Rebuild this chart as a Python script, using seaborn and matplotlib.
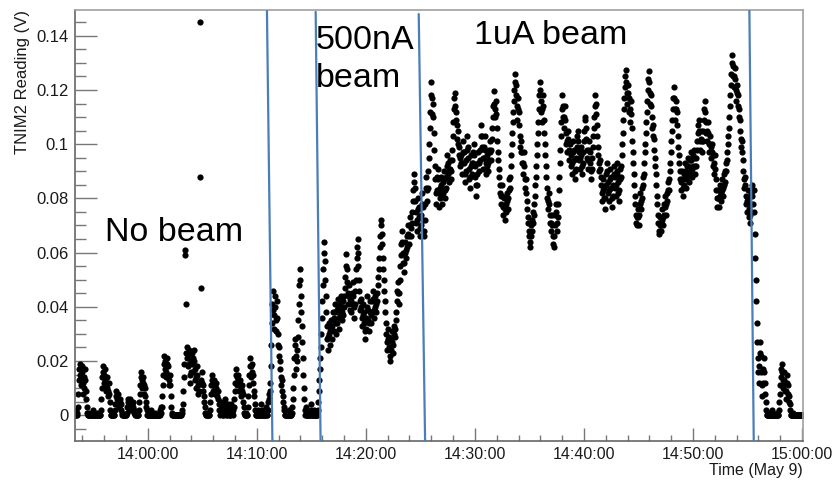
import matplotlib
matplotlib.use("Agg")
import matplotlib.pyplot as plt
import matplotlib.dates as mdates
from matplotlib.ticker import MultipleLocator, FuncFormatter
import pandas as pd
import seaborn as sns

DAY = "2018-05-09 "

# TNIM2 readings (V), one list per beam phase
no_beam_span = ("13:53:20", "14:11:16")
no_beam_v = [
    0, 0, 0.002, 0, 0, 0.001,
    0.003, 0.008, 0.013, 0.017, 0.019, 0.015, 0.011, 0.014, 0.018, 0.016,
    0.012, 0.008, 0.010, 0.014, 0.017, 0.013, 0.009, 0.006, 0.003, 0.001,
    0, 0, 0, 0.001, 0, 0, 0, 0, 0, 0, 0.002, 0, 0, 0, 0, 0, 0, 0, 0.001, 0,
    0, 0, 0, 0, 0, 0,
    0.002, 0.006, 0.010, 0.014, 0.018, 0.016, 0.012, 0.015, 0.017, 0.013,
    0.009, 0.011, 0.014, 0.010, 0.007, 0.009, 0.012, 0.008, 0.005, 0.002,
    0, 0, 0, 0, 0, 0.001, 0, 0,
    0.002, 0.004, 0.007, 0.009, 0.006, 0.004, 0.006, 0.008, 0.005, 0.003,
    0.005, 0.006, 0.004, 0.002, 0.001, 0,
    0, 0, 0, 0, 0, 0, 0, 0,
    0.001, 0.003, 0.005, 0.006, 0.004, 0.002, 0.004, 0.006, 0.005, 0.003,
    0.002, 0.004, 0.005, 0.003, 0.002, 0.001, 0, 0.001,
    0, 0, 0, 0, 0, 0,
    0.002, 0.005, 0.008, 0.011, 0.014, 0.016, 0.013, 0.010, 0.012, 0.014,
    0.011, 0.008, 0.010, 0.007, 0.005, 0.003, 0.002, 0,
    0, 0, 0, 0, 0, 0, 0.002, 0, 0, 0, 0, 0, 0, 0, 0, 0.001, 0, 0, 0, 0,
    0, 0, 0, 0, 0, 0.002, 0.003, 0.001,
    0.003, 0.007, 0.011, 0.015, 0.019, 0.022, 0.020, 0.017, 0.014, 0.016,
    0.019, 0.021, 0.018, 0.014, 0.011, 0.013, 0.015, 0.011, 0.007, 0.003,
    0.001, 0, 0, 0, 0, 0, 0, 0, 0, 0, 0, 0, 0, 0, 0, 0, 0, 0, 0, 0,
    0.001, 0.002,
    0.004, 0.009, 0.014, 0.019, 0.061, 0.059, 0.041, 0.023, 0.025, 0.021,
    0.018, 0.022, 0.024, 0.019, 0.015, 0.012, 0.016, 0.020, 0.023, 0.019,
    0.016, 0.021, 0.024, 0.020, 0.017, 0.013, 0.010, 0.014, 0.018, 0.015,
    0.011, 0.008, 0.012, 0.009, 0.145, 0.088, 0.047, 0.013, 0.016, 0.012,
    0.009, 0.011, 0.007, 0.005, 0.003, 0.001,
    0, 0, 0, 0.001, 0, 0, 0, 0,
    0.002, 0.005, 0.008, 0.011, 0.013, 0.015, 0.012, 0.009, 0.011, 0.013,
    0.010, 0.008, 0.010, 0.012, 0.009, 0.007, 0.009, 0.006, 0.004, 0.002,
    0, 0.002, 0.004, 0.005, 0.003, 0.001, 0, 0, 0.003, 0.005,
    0.006, 0.004, 0.002, 0, 0, 0.002, 0.004, 0.003, 0.001, 0,
    0, 0, 0.002, 0.004, 0.003, 0.001, 0, 0.002,
    0.003, 0.006, 0.009, 0.012, 0.015, 0.017, 0.014, 0.011, 0.013, 0.015,
    0.012, 0.009, 0.011, 0.013, 0.010, 0.007, 0.009, 0.011, 0.008, 0.005,
    0.003, 0.001,
    0, 0, 0.001, 0, 0, 0,
    0.003, 0.007, 0.011, 0.015, 0.018, 0.021, 0.018, 0.014, 0.016, 0.019,
    0.015, 0.012, 0.009, 0.007, 0.004, 0.002,
    0, 0, 0, 0, 0.002, 0, 0, 0, 0, 0, 0, 0.004, 0.002, 0, 0, 0, 0, 0, 0, 0,
    0.003, 0.001, 0, 0, 0.002, 0.005, 0.008, 0.006, 0.009, 0.012,
]

ramp_span = ("14:11:16", "14:15:51")
ramp_v = [
    0.018, 0.026, 0.034, 0.041, 0.046, 0.039, 0.032, 0.037, 0.044, 0.040,
    0.035, 0.031,
    0.042, 0.036, 0.030, 0.026, 0.022, 0.025, 0.020, 0.017, 0.014, 0.011,
    0.013, 0.009, 0.007, 0.005, 0.003, 0.002,
    0, 0, 0, 0.001, 0, 0, 0, 0, 0.002, 0, 0, 0, 0, 0, 0.001, 0.003,
    0.006, 0.010, 0.015, 0.021, 0.026, 0.028, 0.022, 0.017, 0.020, 0.024,
    0.029, 0.035, 0.041, 0.048, 0.054, 0.050, 0.044, 0.038, 0.033, 0.027,
    0.021, 0.015, 0.010, 0.006,
    0.002, 0, 0, 0.003, 0, 0, 0, 0.001, 0, 0, 0, 0, 0.004, 0.002, 0, 0,
    0, 0, 0.002, 0, 0, 0, 0, 0, 0, 0,
    0.002, 0.005, 0.009, 0.013, 0.017, 0.021,
]

beam500_span = ("14:15:51", "14:25:22")
beam500_v = [
    0.025, 0.030, 0.036, 0.042, 0.048, 0.054, 0.060, 0.064, 0.057, 0.050,
    0.044, 0.038, 0.033, 0.028, 0.024, 0.029, 0.034, 0.030, 0.026, 0.031,
    0.035, 0.032,
    0.028, 0.033, 0.038, 0.035, 0.031, 0.036, 0.041, 0.038, 0.034, 0.030,
    0.034, 0.039, 0.043, 0.040, 0.036, 0.032, 0.037, 0.041, 0.044, 0.039,
    0.035, 0.038, 0.042, 0.037, 0.040, 0.044,
    0.047, 0.051, 0.055, 0.0595, 0.054, 0.049, 0.045, 0.041, 0.044, 0.048,
    0.043, 0.039, 0.042, 0.038,
    0.041, 0.045, 0.049, 0.044, 0.040, 0.036, 0.041, 0.046, 0.050, 0.054,
    0.058, 0.062, 0.065, 0.060, 0.055, 0.050,
    0.046, 0.042, 0.039, 0.043, 0.040, 0.036, 0.033, 0.037, 0.041, 0.038,
    0.034, 0.031, 0.028, 0.032, 0.036, 0.040, 0.044, 0.039, 0.035, 0.031,
    0.034, 0.038, 0.042, 0.037,
    0.034, 0.038, 0.042, 0.046, 0.043, 0.039, 0.036, 0.040, 0.044, 0.041,
    0.038, 0.042, 0.045, 0.048, 0.051, 0.054,
    0.058, 0.062, 0.066, 0.070, 0.072, 0.067, 0.063, 0.058, 0.054, 0.050,
    0.046, 0.042,
    0.038, 0.034, 0.030, 0.027, 0.024, 0.028, 0.032, 0.029, 0.025, 0.022,
    0.020, 0.024, 0.028, 0.031, 0.027, 0.023, 0.026, 0.030, 0.033, 0.029,
    0.032, 0.035,
    0.038, 0.042, 0.046, 0.049, 0.045, 0.041, 0.045, 0.050, 0.055, 0.059,
    0.063, 0.068, 0.064, 0.060, 0.056, 0.053,
    0.056, 0.060, 0.064, 0.061, 0.058, 0.062, 0.066, 0.070, 0.067, 0.063,
    0.066, 0.070, 0.073, 0.069, 0.066, 0.071, 0.075, 0.079, 0.083, 0.086,
    0.089, 0.084, 0.079, 0.075, 0.071, 0.068, 0.072, 0.076, 0.080, 0.077,
    0.073, 0.069, 0.066, 0.070, 0.074, 0.078, 0.082, 0.077, 0.072, 0.068,
]

beam1u_span = ("14:25:22", "14:55:34")
beam1u_v = [
    0.066, 0.072, 0.078, 0.084, 0.088, 0.083, 0.079, 0.084, 0.090, 0.095,
    0.100, 0.106, 0.112, 0.118, 0.123, 0.117, 0.111, 0.115, 0.110, 0.104,
    0.098, 0.092, 0.087, 0.082,
    0.078, 0.083, 0.088, 0.091, 0.087, 0.082, 0.077, 0.080, 0.084, 0.088,
    0.085, 0.081, 0.078, 0.082, 0.086, 0.090, 0.087, 0.083, 0.080, 0.084,
    0.088, 0.092, 0.096, 0.093, 0.089, 0.086, 0.090, 0.094, 0.091, 0.087,
    0.090, 0.094,
    0.098, 0.103, 0.108, 0.113, 0.117, 0.119, 0.114, 0.109, 0.112, 0.107,
    0.102, 0.105, 0.100, 0.096, 0.099, 0.095, 0.092, 0.096,
    0.093, 0.089, 0.093, 0.097, 0.101, 0.097, 0.093, 0.089, 0.086, 0.090,
    0.094, 0.098, 0.103, 0.099, 0.095, 0.091, 0.087, 0.084, 0.088, 0.092,
    0.096, 0.093, 0.089, 0.093, 0.097, 0.100, 0.096, 0.092, 0.088, 0.085,
    0.081, 0.085, 0.089, 0.093, 0.097, 0.093,
    0.090, 0.094, 0.098, 0.103, 0.107, 0.103, 0.099, 0.095, 0.091, 0.095,
    0.099, 0.103, 0.098, 0.093,
    0.089, 0.092, 0.096, 0.093, 0.090, 0.094, 0.098, 0.101, 0.097, 0.094,
    0.098, 0.102, 0.106, 0.110, 0.114, 0.1195, 0.115, 0.110, 0.113, 0.116,
    0.111, 0.106, 0.101, 0.097, 0.094, 0.091,
    0.088, 0.085, 0.082, 0.078, 0.081, 0.085, 0.081, 0.077, 0.074, 0.077,
    0.080, 0.076, 0.072, 0.075, 0.078, 0.082, 0.079, 0.076, 0.080, 0.083,
    0.087, 0.084, 0.088, 0.092,
    0.096, 0.100, 0.104, 0.108, 0.112, 0.116, 0.120, 0.123, 0.126, 0.122,
    0.118, 0.114, 0.109, 0.113, 0.117, 0.112, 0.107, 0.103, 0.099, 0.097,
    0.101, 0.097, 0.093, 0.089, 0.093, 0.097, 0.092, 0.087, 0.084, 0.087,
    0.082, 0.079, 0.076, 0.073, 0.071, 0.068,
    0.066, 0.064, 0.062, 0.066, 0.070, 0.068, 0.072, 0.075, 0.071, 0.074,
    0.078, 0.081, 0.085, 0.088,
    0.092, 0.096, 0.100, 0.104, 0.108, 0.113, 0.118, 0.123, 0.120, 0.116,
    0.112, 0.108, 0.113, 0.118, 0.114, 0.109, 0.104, 0.100, 0.096, 0.092,
    0.088, 0.084,
    0.080, 0.076, 0.079, 0.082, 0.078, 0.074, 0.071, 0.068, 0.071, 0.074,
    0.070, 0.066, 0.063, 0.062, 0.066, 0.070, 0.074, 0.078, 0.075, 0.071,
    0.068, 0.073, 0.078, 0.083,
    0.088, 0.093, 0.098, 0.103, 0.108, 0.113, 0.118, 0.114, 0.110, 0.106,
    0.110, 0.114, 0.109, 0.104, 0.100, 0.097, 0.101, 0.105, 0.102, 0.098,
    0.094, 0.097, 0.100, 0.096, 0.092, 0.089, 0.093, 0.097, 0.101, 0.098,
    0.094, 0.090, 0.087, 0.091, 0.095, 0.099, 0.103, 0.105, 0.101, 0.097,
    0.094, 0.091, 0.095, 0.099, 0.096, 0.092, 0.089, 0.093, 0.097, 0.101,
    0.105, 0.109, 0.110, 0.106, 0.102, 0.098, 0.095, 0.091, 0.094, 0.098,
    0.101, 0.097, 0.093, 0.090, 0.087, 0.091, 0.095, 0.099, 0.103, 0.106,
    0.110, 0.114, 0.118, 0.115, 0.111, 0.107, 0.103, 0.099, 0.096, 0.093,
    0.090, 0.094, 0.091, 0.088,
    0.085, 0.082, 0.079, 0.083, 0.087, 0.084, 0.080, 0.076, 0.080, 0.085,
    0.089, 0.093, 0.090, 0.086, 0.082, 0.079, 0.083, 0.087, 0.091, 0.088,
    0.084, 0.080, 0.077, 0.081, 0.085, 0.089, 0.092, 0.088, 0.084, 0.081,
    0.085, 0.089, 0.093, 0.090, 0.086, 0.082, 0.079, 0.083, 0.087, 0.091,
    0.088, 0.092,
    0.096, 0.100, 0.104, 0.109, 0.113, 0.117, 0.121, 0.125, 0.1275, 0.123,
    0.119, 0.115, 0.119, 0.122, 0.117, 0.112, 0.108, 0.113, 0.116, 0.111,
    0.106, 0.101, 0.097, 0.093,
    0.089, 0.085, 0.081, 0.078, 0.074, 0.071, 0.070, 0.073, 0.076, 0.073,
    0.070, 0.074, 0.078, 0.082, 0.079, 0.076, 0.080, 0.084, 0.088, 0.085,
    0.089, 0.093, 0.097, 0.100,
    0.104, 0.108, 0.112, 0.116, 0.120, 0.124, 0.127, 0.123, 0.119, 0.115,
    0.118, 0.114, 0.110, 0.106, 0.103, 0.107, 0.102, 0.098, 0.095, 0.092,
    0.089, 0.085, 0.081, 0.078, 0.074, 0.071, 0.068, 0.067, 0.070, 0.073,
    0.070, 0.068, 0.072, 0.076, 0.073, 0.070, 0.074, 0.078, 0.081, 0.077,
    0.074, 0.078, 0.082, 0.079, 0.083, 0.086, 0.083, 0.087, 0.090, 0.093,
    0.097, 0.101, 0.105, 0.109, 0.113, 0.117, 0.121, 0.117, 0.113, 0.109,
    0.113, 0.116, 0.112, 0.107, 0.103, 0.099, 0.096, 0.093, 0.090, 0.087,
    0.083, 0.086, 0.090, 0.087, 0.084, 0.081, 0.085, 0.089, 0.093, 0.090,
    0.087, 0.084, 0.088, 0.092, 0.095, 0.092, 0.089, 0.086, 0.090, 0.094,
    0.097, 0.094, 0.091, 0.088, 0.092, 0.096, 0.098, 0.095, 0.092, 0.089,
    0.092, 0.095,
    0.098, 0.101, 0.104, 0.107, 0.109, 0.105, 0.101, 0.098, 0.102, 0.105,
    0.101, 0.097, 0.101, 0.105, 0.109, 0.113, 0.116, 0.112, 0.108, 0.104,
    0.101, 0.105, 0.108, 0.104, 0.100, 0.097, 0.100, 0.103, 0.099, 0.095,
    0.097, 0.100, 0.096, 0.092, 0.089, 0.093, 0.096, 0.091,
    0.087, 0.083, 0.080, 0.077, 0.080, 0.083, 0.080, 0.077, 0.081, 0.085,
    0.082, 0.079, 0.083, 0.087, 0.084, 0.081, 0.085, 0.089, 0.086, 0.090,
    0.093, 0.090, 0.094, 0.097, 0.100, 0.103,
    0.106, 0.110, 0.114, 0.118, 0.122, 0.126, 0.130, 0.133, 0.129, 0.125,
    0.121, 0.125, 0.128, 0.124, 0.120, 0.116, 0.119, 0.122, 0.118, 0.114,
    0.110, 0.113, 0.109, 0.105, 0.102, 0.099,
    0.101, 0.097, 0.094, 0.090, 0.087, 0.084, 0.088, 0.085, 0.081, 0.078,
    0.075, 0.079, 0.083, 0.080, 0.076, 0.073, 0.071, 0.074, 0.078, 0.082,
    0.085, 0.081, 0.078, 0.083,
]

off_span = ("14:55:34", "15:00:09")
off_v = [
    0.083, 0.075, 0.067, 0.058, 0.050, 0.042,
    0.034, 0.027, 0.021, 0.016, 0.012, 0.018, 0.023, 0.027, 0.022, 0.016,
    0.011, 0.007, 0.012, 0.017, 0.021, 0.016, 0.012, 0.008, 0.005, 0.002,
    0, 0, 0, 0.001, 0, 0, 0, 0, 0, 0, 0.002, 0, 0, 0, 0, 0, 0, 0, 0, 0,
    0.001, 0, 0, 0,
    0.002, 0.005, 0.008, 0.011, 0.014, 0.017, 0.019, 0.016, 0.013, 0.010,
    0.013, 0.016, 0.012, 0.009, 0.006, 0.009, 0.012, 0.015, 0.011, 0.008,
    0.005, 0.007, 0.004, 0.002,
    0, 0, 0, 0, 0.001, 0, 0, 0, 0, 0, 0, 0, 0, 0, 0, 0, 0, 0, 0, 0,
    0, 0, 0, 0, 0, 0,
]

# hand-drawn phase boundaries: time at the bottom, time at the top, top value
edge_bottom = ["14:11:26", "14:15:51", "14:25:26", "14:55:34"]
edge_top = ["14:10:56", "14:15:24", "14:24:51", "14:55:10"]
edge_top_v = [0.1491, 0.1488, 0.1480, 0.1492]

Y_LOW, Y_HIGH = -0.0095, 0.1495
BLUE = "#4a7ebb"


def segment(span, values):
    t = pd.date_range(DAY + span[0], DAY + span[1], periods=len(values) + 1)[:-1]
    return pd.DataFrame({"time": t, "reading": values})


df = pd.concat([
    segment(no_beam_span, no_beam_v),
    segment(ramp_span, ramp_v),
    segment(beam500_span, beam500_v),
    segment(beam1u_span, beam1u_v),
    segment(off_span, off_v),
], ignore_index=True)

sns.set_style("white")
plt.rcParams["font.family"] = ["Liberation Sans", "DejaVu Sans"]

fig = plt.figure(figsize=(8.38, 4.8), dpi=100)
ax = fig.add_axes([75 / 838, 39 / 480, 728 / 838, 431 / 480])

sns.scatterplot(data=df, x="time", y="reading", ax=ax, color="black",
                s=20, linewidth=0, legend=False, zorder=2)

for b, t, tv in zip(edge_bottom, edge_top, edge_top_v):
    xs = mdates.date2num([pd.Timestamp(DAY + b), pd.Timestamp(DAY + t)])
    ax.plot(xs, [Y_LOW, tv], color=BLUE, lw=1.6, zorder=3)

ax.set_xlim(pd.Timestamp(DAY + "13:53:20"), pd.Timestamp(DAY + "15:00:05"))
ax.set_ylim(Y_LOW, Y_HIGH)

ax.xaxis.set_major_locator(mdates.MinuteLocator(byminute=range(0, 60, 10)))
ax.xaxis.set_minor_locator(mdates.MinuteLocator(byminute=range(0, 60, 2)))
ax.xaxis.set_major_formatter(mdates.DateFormatter("%H:%M:%S"))
ax.yaxis.set_major_locator(MultipleLocator(0.02))
ax.yaxis.set_minor_locator(MultipleLocator(0.005))
ax.yaxis.set_major_formatter(FuncFormatter(lambda v, _: f"{round(v, 4):g}"))

ax.set_xlabel("")
ax.set_ylabel("")
ax.tick_params(axis="both", which="both", direction="in", color="#777777",
               labelcolor="#1a1a1a", left=True, bottom=True, top=False, right=False)
ax.tick_params(axis="y", which="major", length=15.5, width=1, labelsize=12, pad=4.5)
ax.tick_params(axis="y", which="minor", length=8, width=1)
ax.tick_params(axis="x", which="major", length=9.5, width=1, labelsize=11.5, pad=4)
ax.tick_params(axis="x", which="minor", length=4.5, width=1)

for side in ["left", "bottom"]:
    ax.spines[side].set_color("#666666")
    ax.spines[side].set_linewidth(1.2)
for side in ["top", "right"]:
    ax.spines[side].set_color("#a0a0a0")
    ax.spines[side].set_linewidth(1.2)


# phase annotations
def label(time, value, text):
    ax.text(mdates.date2num(pd.Timestamp(DAY + time)), value, text,
            fontsize=24.5, color="black", va="baseline", ha="left", zorder=4)


label("13:56:05", 0.0643, "No beam")
label("14:15:24", 0.1351, "500nA")
label("14:15:24", 0.1211, "beam")
label("14:29:57", 0.1369, "1uA beam")

fig.text(23 / 838, 1 - 10 / 480, "TNIM2 Reading (V)", rotation=90,
         ha="center", va="top", fontsize=12, color="#1a1a1a")
fig.text(803 / 838, 1 - 470 / 480, "Time (May 9)", ha="right", va="center",
         fontsize=11.5, color="#1a1a1a")

fig.savefig("out.png", dpi=100)
